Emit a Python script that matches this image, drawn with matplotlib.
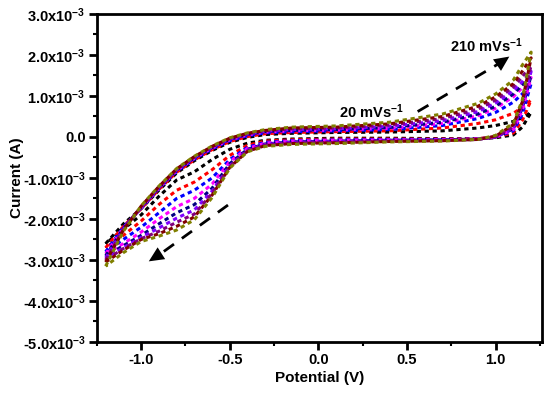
import matplotlib
matplotlib.use("Agg")
import numpy as np
import matplotlib.pyplot as plt
from matplotlib.ticker import FuncFormatter, MultipleLocator

plt.rcParams['font.family'] = ['Liberation Sans', 'DejaVu Sans']
plt.rcParams['font.weight'] = 'bold'
plt.rcParams['mathtext.fontset'] = 'custom'
plt.rcParams['mathtext.rm'] = 'Liberation Sans:bold'
plt.rcParams['mathtext.default'] = 'rm'

# potential grid (V) shared by both scan branches
potential = [-1.2, -1.1, -1.0, -0.9, -0.8, -0.7, -0.6, -0.5, -0.4, -0.3,
             -0.15, 0.1, 0.4, 0.7, 0.9, 1.0, 1.1, 1.15, 1.2]

scan_rates = [20, 50, 70, 90, 110, 130, 150, 180, 210]  # mV/s
colors = ['#000000', '#FF0000', '#0000FF', '#FF00FF', '#000080',
          '#8000FF', '#800080', '#800000', '#808000']

# currents in mA, forward (upper) branch
upper_20 = [-2.6, -2.12, -1.75, -1.3, -0.88, -0.58, -0.33, -0.13, -0.01, 0.06, 0.09, 0.11, 0.12, 0.15, 0.22, 0.28, 0.38, 0.47, 0.6]
upper_50 = [-2.7, -2.18, -1.75, -1.28, -0.86, -0.56, -0.31, -0.11, 0.01, 0.08, 0.11, 0.13, 0.15, 0.22, 0.33, 0.42, 0.58, 0.72, 0.9]
upper_70 = [-2.8, -2.2, -1.74, -1.26, -0.84, -0.54, -0.29, -0.09, 0.03, 0.1, 0.13, 0.15, 0.18, 0.28, 0.45, 0.6, 0.85, 1.05, 1.3]
upper_90 = [-2.85, -2.22, -1.73, -1.25, -0.82, -0.52, -0.27, -0.07, 0.05, 0.12, 0.15, 0.17, 0.21, 0.33, 0.52, 0.7, 0.98, 1.2, 1.45]
upper_110 = [-2.9, -2.23, -1.72, -1.24, -0.81, -0.51, -0.26, -0.06, 0.06, 0.13, 0.16, 0.18, 0.23, 0.36, 0.56, 0.75, 1.05, 1.27, 1.5]
upper_130 = [-2.95, -2.24, -1.71, -1.23, -0.8, -0.5, -0.25, -0.05, 0.07, 0.14, 0.18, 0.2, 0.26, 0.4, 0.62, 0.83, 1.13, 1.35, 1.6]
upper_150 = [-3.0, -2.25, -1.7, -1.22, -0.79, -0.49, -0.24, -0.04, 0.08, 0.15, 0.2, 0.22, 0.29, 0.45, 0.68, 0.9, 1.22, 1.47, 1.75]
upper_180 = [-3.05, -2.27, -1.69, -1.21, -0.78, -0.48, -0.23, -0.03, 0.09, 0.16, 0.22, 0.24, 0.32, 0.5, 0.75, 0.98, 1.3, 1.6, 1.93]
upper_210 = [-3.15, -2.3, -1.68, -1.2, -0.77, -0.47, -0.22, -0.02, 0.1, 0.18, 0.24, 0.27, 0.36, 0.56, 0.82, 1.05, 1.39, 1.75, 2.07]

# currents in mA, reverse (lower) branch, listed on the same grid
lower_20 = [-2.6, -2.25, -1.9, -1.45, -1.05, -0.85, -0.55, -0.3, -0.15, -0.08, -0.05, -0.03, -0.03, -0.04, -0.04, -0.02, 0.05, 0.24, 0.6]
lower_50 = [-2.7, -2.4, -2.05, -1.65, -1.3, -1.1, -0.8, -0.45, -0.2, -0.1, -0.07, -0.05, -0.05, -0.05, -0.04, 0.0, 0.1, 0.4, 0.9]
lower_70 = [-2.8, -2.5, -2.2, -1.85, -1.5, -1.3, -1.0, -0.55, -0.25, -0.13, -0.09, -0.07, -0.06, -0.06, -0.05, 0.0, 0.15, 0.55, 1.3]
lower_90 = [-2.85, -2.6, -2.32, -2.0, -1.7, -1.5, -1.15, -0.6, -0.28, -0.15, -0.1, -0.08, -0.07, -0.07, -0.05, 0.0, 0.18, 0.65, 1.45]
lower_110 = [-2.9, -2.65, -2.4, -2.12, -1.85, -1.65, -1.25, -0.65, -0.3, -0.17, -0.12, -0.1, -0.08, -0.07, -0.05, 0.0, 0.2, 0.7, 1.5]
lower_130 = [-2.95, -2.7, -2.45, -2.22, -1.98, -1.78, -1.32, -0.7, -0.32, -0.18, -0.13, -0.11, -0.09, -0.08, -0.06, 0.0, 0.22, 0.75, 1.6]
lower_150 = [-3.0, -2.72, -2.48, -2.3, -2.08, -1.88, -1.38, -0.72, -0.34, -0.2, -0.15, -0.13, -0.1, -0.09, -0.06, 0.0, 0.25, 0.8, 1.75]
lower_180 = [-3.05, -2.76, -2.5, -2.36, -2.18, -1.95, -1.42, -0.74, -0.35, -0.21, -0.16, -0.14, -0.11, -0.09, -0.06, 0.02, 0.3, 0.85, 1.93]
lower_210 = [-3.15, -2.82, -2.55, -2.42, -2.27, -2.02, -1.48, -0.76, -0.36, -0.23, -0.18, -0.16, -0.12, -0.1, -0.06, 0.04, 0.34, 0.9, 2.07]

uppers = [upper_20, upper_50, upper_70, upper_90, upper_110, upper_130, upper_150, upper_180, upper_210]
lowers = [lower_20, lower_50, lower_70, lower_90, lower_110, lower_130, lower_150, lower_180, lower_210]

fig = plt.figure(figsize=(5.5, 3.94), dpi=100)
ax = fig.add_axes([0.176, 0.132, 0.809, 0.8325])

E = np.array(potential)
for up, low, c in zip(uppers, lowers, colors):
    x = np.concatenate([E, E[::-1]])
    y = np.concatenate([up, low[::-1]]) * 1e-3
    ax.plot(x, y, color=c, lw=2.2, linestyle=(0, (1.4, 1.2)), dash_capstyle='butt')

# scan-direction arrows
ax.plot([0.56, 1.03], [0.62e-3, 1.82e-3], color='k', lw=2.0, linestyle=(0, (4.5, 3.5)))
ax.annotate('', xy=(1.09, 2.0e-3), xytext=(1.01, 1.76e-3),
            arrowprops=dict(arrowstyle='-|>,head_length=0.6,head_width=0.28', color='k', lw=0, mutation_scale=18))
ax.plot([-0.51, -0.90], [-1.66e-3, -2.88e-3], color='k', lw=2.0, linestyle=(0, (4.5, 3.5)))
ax.annotate('', xy=(-0.97, -3.07e-3), xytext=(-0.88, -2.82e-3),
            arrowprops=dict(arrowstyle='-|>,head_length=0.6,head_width=0.28', color='k', lw=0, mutation_scale=18))

ax.text(0.30, 0.62e-3, '20 mVs$^{-1}$', ha='center', va='center', fontsize=10.5, fontweight='bold')
ax.text(0.95, 2.22e-3, '210 mVs$^{-1}$', ha='center', va='center', fontsize=10.5, fontweight='bold')

ax.set_xlim(-1.25, 1.26)
ax.set_ylim(-5e-3, 3e-3)
ax.xaxis.set_major_locator(MultipleLocator(0.5))
ax.xaxis.set_minor_locator(MultipleLocator(0.25))
ax.yaxis.set_major_locator(MultipleLocator(1e-3))
ax.yaxis.set_minor_locator(MultipleLocator(0.5e-3))


def yfmt(v, pos):
    m = v * 1e3
    if abs(m) < 1e-9:
        return '0.0'
    return '%.1fx10$^{-3}$' % m


ax.yaxis.set_major_formatter(FuncFormatter(yfmt))
ax.xaxis.set_major_formatter(FuncFormatter(lambda v, p: '%.1f' % v))

for s in ax.spines.values():
    s.set_linewidth(2.0)
ax.tick_params(which='major', direction='out', length=6, width=2, labelsize=10.5, pad=2)
ax.tick_params(which='minor', direction='out', length=3, width=1.5)
ax.tick_params(top=False, right=False)
for lab in ax.get_xticklabels() + ax.get_yticklabels():
    lab.set_fontweight('bold')

ax.set_xlabel('Potential (V)', fontsize=11, fontweight='bold', labelpad=3)
ax.set_ylabel('Current (A)', fontsize=11, fontweight='bold', labelpad=-1)

fig.savefig('out.png', dpi=100)
